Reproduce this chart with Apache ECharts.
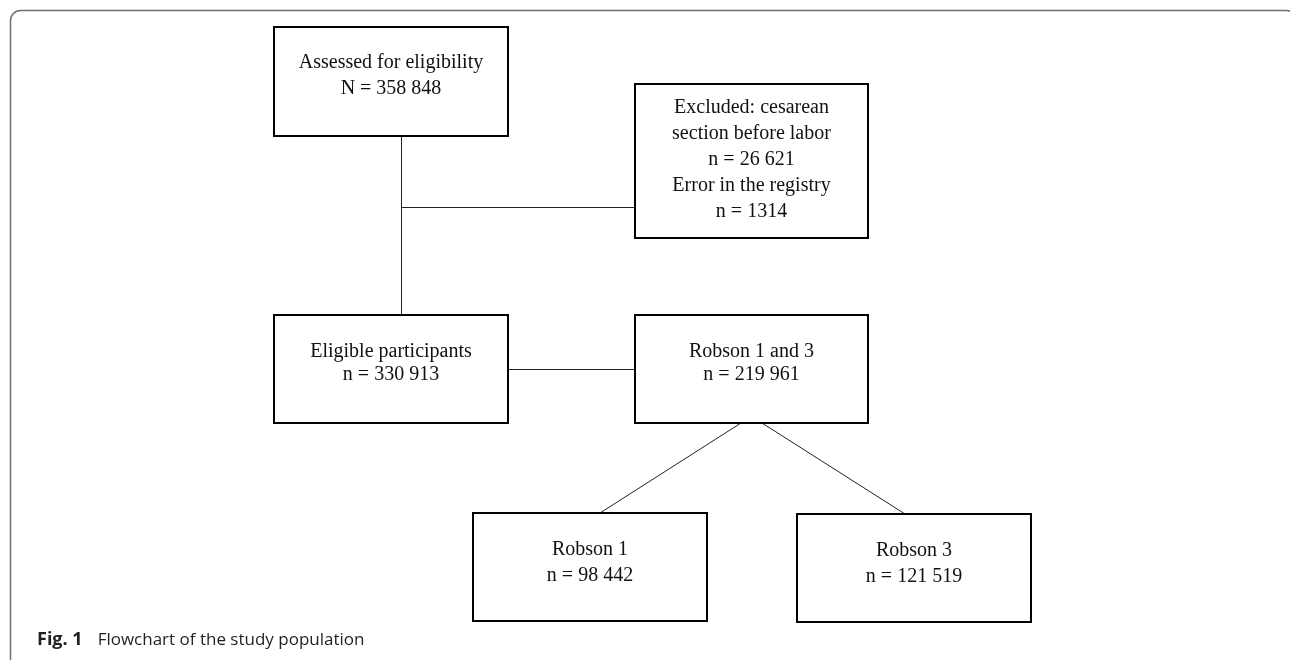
<!DOCTYPE html>
<html>
<head>
<meta charset="utf-8">
<script src="https://cdn.jsdelivr.net/npm/echarts@6/dist/echarts.min.js"></script>
<style>
  html, body { margin: 0; padding: 0; background: #ffffff; }
  #chart { width: 1290px; height: 660px; }
</style>
</head>
<body>
<div id="chart"></div>
<script>
// ---- data ----
const boxTitles = [
  ['Assessed for eligibility'],
  ['Excluded: cesarean', 'section before labor'],
  ['Eligible participants'],
  ['Robson 1 and 3'],
  ['Robson 1'],
  ['Robson 3']
];
const boxCountPrefix = ['N', 'n', 'n', 'n', 'n', 'n'];
const boxCounts = [358848, 26621, 330913, 219961, 98442, 121519];
const registryErrorLabel = 'Error in the registry';
const registryErrorCount = 1314;
const captionLabel = 'Fig. 1';
const captionText = 'Flowchart of the study population';

// ---- layout (pixel space of the hidden axes) ----
const boxLayout = [
  { x: 274, y: 27,  w: 234, h: 109, first: 36, gap: 26 },
  { x: 635, y: 84,  w: 233, h: 154, first: 24, gap: 26 },
  { x: 274, y: 315, w: 234, h: 108, first: 37, gap: 22.5 },
  { x: 635, y: 315, w: 233, h: 108, first: 37, gap: 22.5 },
  { x: 473, y: 513, w: 234, h: 108, first: 37, gap: 26 },
  { x: 797, y: 514, w: 234, h: 108, first: 37, gap: 26 }
];
const connectorLayout = [
  [[401.5, 136], [401.5, 315]],
  [[401.5, 207.5], [635, 207.5]],
  [[508, 369.5], [635, 369.5]],
  [[741, 423], [600, 513]],
  [[762, 423], [905, 514]]
];

function fmt(n) {
  if (n < 10000) return String(n);
  return String(n).replace(/\B(?=(\d{3})+(?!\d))/g, ' ');
}
function boxLines(i) {
  const lines = boxTitles[i].slice();
  lines.push(boxCountPrefix[i] + ' = ' + fmt(boxCounts[i]));
  if (i === 1) {
    lines.push(registryErrorLabel);
    lines.push('n = ' + fmt(registryErrorCount));
  }
  return lines;
}

const chart = echarts.init(document.getElementById('chart'), null, { renderer: 'canvas' });

const option = {
  backgroundColor: '#ffffff',
  animation: false,
  grid: { left: 0, right: 0, top: 0, bottom: 0 },
  xAxis: { type: 'value', min: 0, max: 1290, show: false },
  yAxis: { type: 'value', min: 0, max: 660, inverse: true, show: false },
  title: {
    left: 37,
    top: 631,
    padding: 0,
    text: '{b|' + captionLabel + '}{r|' + captionText + '}',
    textStyle: {
      fontWeight: 'normal',
      fontFamily: 'Open Sans',
      fontSize: 17,
      color: '#231f20',
      rich: {
        b: { fontFamily: 'Open Sans', fontWeight: 'bold', fontSize: 18, color: '#231f20' },
        r: { fontFamily: 'Open Sans', fontWeight: 'normal', fontSize: 17, color: '#231f20', padding: [0, 0, 0, 15] }
      }
    }
  },
  graphic: [
    {
      type: 'rect',
      shape: { x: 10.5, y: 10.5, width: 1286, height: 700, r: 10 },
      style: { fill: 'none', stroke: '#6f6f6f', lineWidth: 1.5 },
      z: 0
    }
  ],
  series: [
    {
      type: 'lines',
      coordinateSystem: 'cartesian2d',
      polyline: false,
      lineStyle: { color: '#222', width: 1, opacity: 1 },
      data: connectorLayout.map(c => ({ coords: c })),
      z: 1,
      silent: true
    },
    {
      type: 'custom',
      coordinateSystem: 'cartesian2d',
      data: boxCounts.map((v, i) => [i, v]),
      z: 2,
      renderItem: function (params, api) {
        const i = api.value(0);
        const L = boxLayout[i];
        const p0 = api.coord([L.x, L.y]);
        const p1 = api.coord([L.x + L.w, L.y + L.h]);
        const children = [
          {
            type: 'rect',
            shape: { x: p0[0], y: p0[1], width: p1[0] - p0[0], height: p1[1] - p0[1] },
            style: { fill: '#ffffff', stroke: '#000000', lineWidth: 2 }
          }
        ];
        const lines = boxLines(i);
        const cx = (p0[0] + p1[0]) / 2;
        lines.forEach((t, k) => {
          const ly = api.coord([0, L.y + L.first + k * L.gap])[1];
          children.push({
            type: 'text',
            style: {
              x: cx, y: ly, text: t,
              align: 'center', verticalAlign: 'middle',
              fontFamily: 'Liberation Serif', fontSize: 20, fill: '#111'
            }
          });
        });
        return { type: 'group', children: children };
      }
    }
  ]
};
chart.setOption(option);
</script>
</body>
</html>
